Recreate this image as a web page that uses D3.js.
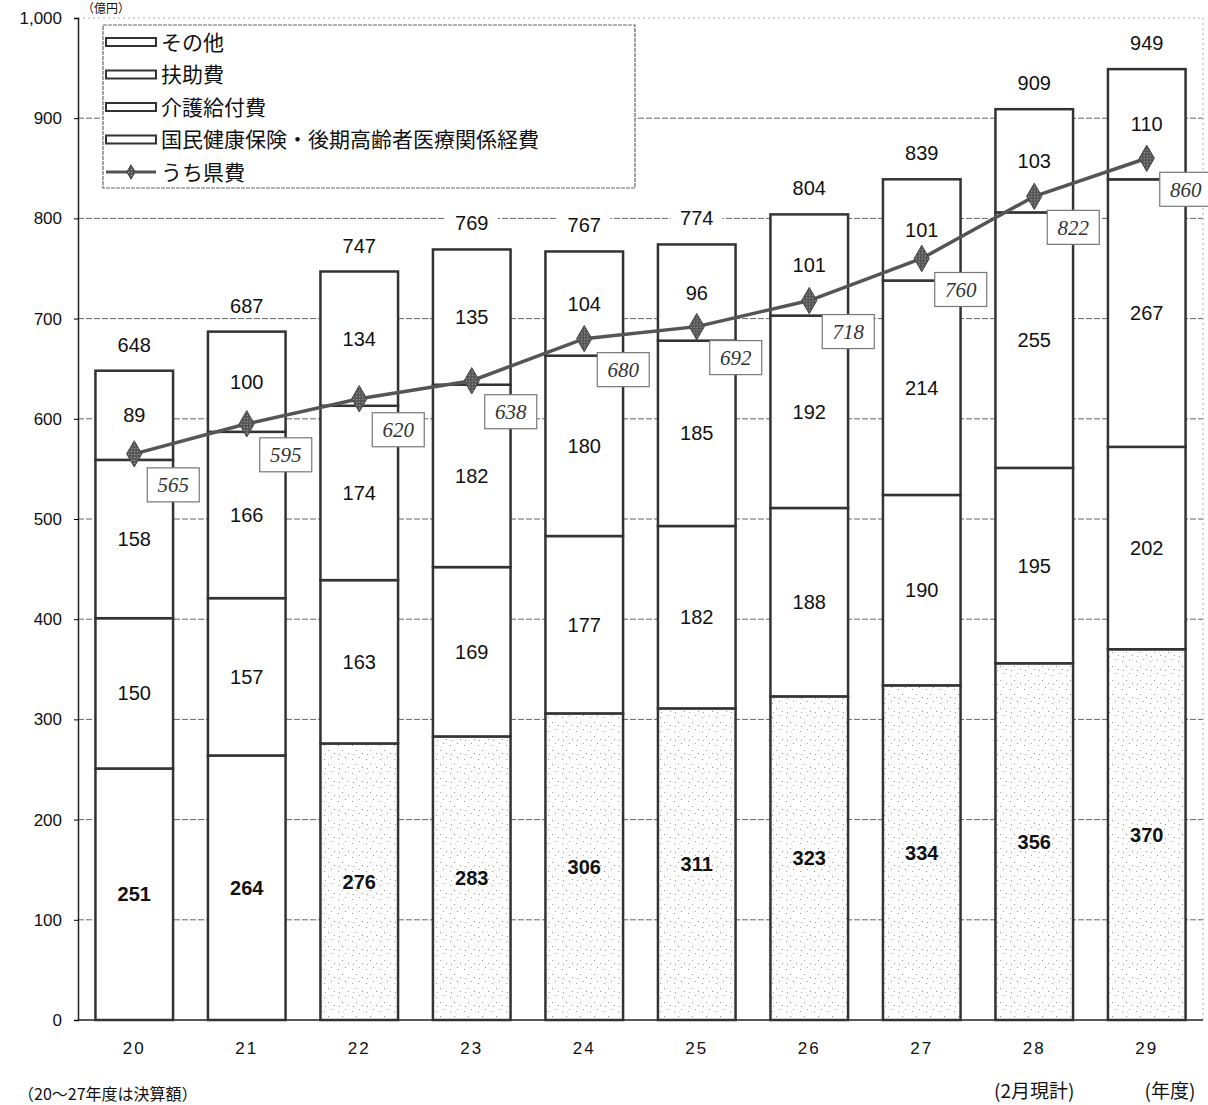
<!DOCTYPE html>
<html>
<head>
<meta charset="utf-8">
<script src="https://cdn.jsdelivr.net/npm/d3@7"></script>
<style>
  body { margin: 0; background: #fff; }
  svg { display: block; }
</style>
</head>
<body>
<div id="chart"></div>
<script>
// data
const years = ["20", "21", "22", "23", "24", "25", "26", "27", "28", "29"];
const seriesNames = ["国民健康保険・後期高齢者医療関係経費", "介護給付費", "扶助費", "その他"];
const kokuho = [251, 264, 276, 283, 306, 311, 323, 334, 356, 370];
const kaigo = [150, 157, 163, 169, 177, 182, 188, 190, 195, 202];
const fujo = [158, 166, 174, 182, 180, 185, 192, 214, 255, 267];
const sonota = [89, 100, 134, 135, 104, 96, 101, 101, 103, 110];
const totals = [648, 687, 747, 769, 767, 774, 804, 839, 909, 949];
const kenpi = [565, 595, 620, 638, 680, 692, 718, 760, 822, 860];
const yTicks = [0, 100, 200, 300, 400, 500, 600, 700, 800, 900, 1000];

// draw
{
    let width = 1208,
        height = 1105,
        margin = { top: 18, right: 5, bottom: 85, left: 78 };

    let svg = d3.select("#chart").append("svg")
        .attr("width", width)
        .attr("height", height)
        .style("font-family", "'Liberation Sans', Arial, sans-serif");

    // stipple pattern for the lower segment
    let defs = svg.append("defs");
    let pat = defs.append("pattern")
        .attr("id", "stipple")
        .attr("patternUnits", "userSpaceOnUse")
        .attr("width", 14)
        .attr("height", 14);
    pat.append("rect").attr("width", 14).attr("height", 14).attr("fill", "#fff");
    [[2, 3], [9, 1], [6, 8], [12, 11], [3, 12]].forEach(function(p) {
        pat.append("rect").attr("x", p[0]).attr("y", p[1])
            .attr("width", 1).attr("height", 1).attr("fill", "#999");
    });
    let hatch = defs.append("pattern")
        .attr("id", "hatch")
        .attr("patternUnits", "userSpaceOnUse")
        .attr("width", 3)
        .attr("height", 3);
    hatch.append("rect").attr("width", 3).attr("height", 3).attr("fill", "#555");
    hatch.append("rect").attr("width", 1).attr("height", 1).attr("fill", "#bbb");

    let x = d3.scaleBand()
        .domain(years)
        .range([margin.left, width - margin.right])
        .paddingInner(0.31)
        .paddingOuter(0.155);
    let y = d3.scaleLinear()
        .domain([0, 1000])
        .range([height - margin.bottom, margin.top]);

    // grid
    svg.append("g")
        .selectAll("line")
        .data(yTicks.filter(function(d) { return d > 0; }))
        .enter()
        .append("line")
        .attr("x1", margin.left)
        .attr("x2", width - margin.right)
        .attr("y1", function(d) { return y(d); })
        .attr("y2", function(d) { return y(d); })
        .attr("stroke", function(d) { return d == 1000 ? "#aaa" : "#666"; })
        .attr("stroke-width", 1)
        .attr("stroke-dasharray", function(d) { return d == 1000 ? "2,3" : "6,2"; });
    svg.append("line")
        .attr("x1", width - margin.right).attr("x2", width - margin.right)
        .attr("y1", y(1000)).attr("y2", y(0))
        .attr("stroke", "#aaa")
        .attr("stroke-dasharray", "2,3");

    // y axis
    let yAxis = d3.axisLeft(y)
        .tickValues(yTicks)
        .tickSize(4)
        .tickPadding(12)
        .tickFormat(d3.format(","));
    let ya = svg.append("g")
        .attr("transform", "translate(" + margin.left + ",0)")
        .call(yAxis);
    ya.select(".domain").attr("stroke", "#222").attr("stroke-width", 1.5);
    ya.selectAll("text").attr("font-size", 17).attr("fill", "#111")
        .attr("font-family", "'Liberation Sans', Arial, sans-serif");

    // x axis
    svg.append("line")
        .attr("x1", margin.left).attr("x2", width - margin.right)
        .attr("y1", y(0)).attr("y2", y(0))
        .attr("stroke", "#222").attr("stroke-width", 1.5);
    svg.append("g")
        .selectAll("text")
        .data(years)
        .enter()
        .append("text")
        .attr("x", function(d) { return x(d) + x.bandwidth() / 2; })
        .attr("y", y(0) + 34)
        .attr("text-anchor", "middle")
        .attr("font-size", 17)
        .attr("letter-spacing", 2)
        .attr("fill", "#111")
        .text(function(d) { return d; });

    // stacks
    let rows = years.map(function(yr, i) {
        return { year: yr, s0: kokuho[i], s1: kaigo[i], s2: fujo[i], s3: sonota[i], i: i };
    });
    let stack = d3.stack().keys(["s0", "s1", "s2", "s3"]);
    let layers = stack(rows);

    layers.forEach(function(layer, li) {
        let g = svg.append("g");
        g.selectAll("rect")
            .data(layer)
            .enter()
            .append("rect")
            .attr("x", function(d) { return x(d.data.year); })
            .attr("y", function(d) { return y(d[1]); })
            .attr("width", x.bandwidth())
            .attr("height", function(d) { return y(d[0]) - y(d[1]); })
            .attr("fill", function(d) { return (li == 0 && d.data.i >= 2) ? "url(#stipple)" : "#fff"; })
            .attr("stroke", "#333")
            .attr("stroke-width", 2.5);
        g.selectAll("text")
            .data(layer)
            .enter()
            .append("text")
            .attr("x", function(d) { return x(d.data.year) + x.bandwidth() / 2; })
            .attr("y", function(d) { return (y(d[0]) + y(d[1])) / 2; })
            .attr("dy", "0.35em")
            .attr("text-anchor", "middle")
            .attr("font-size", 20)
            .attr("font-weight", li == 0 ? "bold" : "normal")
            .attr("fill", "#111")
            .text(function(d) { return d[1] - d[0]; });
    });

    // totals
    let tg = svg.append("g");
    tg.selectAll("rect")
        .data(totals)
        .enter()
        .append("rect")
        .attr("x", function(d, i) { return x(years[i]) + x.bandwidth() / 2 - 26; })
        .attr("y", function(d) { return y(d) - 38; })
        .attr("width", 52)
        .attr("height", 24)
        .attr("fill", "#fff");
    tg.selectAll("text")
        .data(totals)
        .enter()
        .append("text")
        .attr("x", function(d, i) { return x(years[i]) + x.bandwidth() / 2; })
        .attr("y", function(d) { return y(d) - 26; })
        .attr("dy", "0.35em")
        .attr("text-anchor", "middle")
        .attr("font-size", 20)
        .attr("fill", "#111")
        .text(function(d) { return d; });

    // うち県費 line
    let line = d3.line()
        .x(function(d, i) { return x(years[i]) + x.bandwidth() / 2; })
        .y(function(d) { return y(d); });
    svg.append("path")
        .datum(kenpi)
        .attr("d", line)
        .attr("fill", "none")
        .attr("stroke", "#555")
        .attr("stroke-width", 3.5);
    svg.append("g")
        .selectAll("path")
        .data(kenpi)
        .enter()
        .append("path")
        .attr("d", d3.symbol().type(d3.symbolDiamond).size(200))
        .attr("transform", function(d, i) {
            return "translate(" + (x(years[i]) + x.bandwidth() / 2) + "," + y(d) + ")";
        })
        .attr("fill", "url(#hatch)")
        .attr("stroke", "#444")
        .attr("stroke-width", 1);
    let lg = svg.append("g");
    lg.selectAll("rect")
        .data(kenpi)
        .enter()
        .append("rect")
        .attr("x", function(d, i) { return x(years[i]) + x.bandwidth() / 2 + 13; })
        .attr("y", function(d) { return y(d) + 14; })
        .attr("width", 52)
        .attr("height", 34)
        .attr("fill", "#fff")
        .attr("stroke", "#777")
        .attr("stroke-width", 1.2);
    lg.selectAll("text")
        .data(kenpi)
        .enter()
        .append("text")
        .attr("x", function(d, i) { return x(years[i]) + x.bandwidth() / 2 + 39; })
        .attr("y", function(d) { return y(d) + 31; })
        .attr("dy", "0.35em")
        .attr("text-anchor", "middle")
        .attr("font-size", 21)
        .attr("font-style", "italic")
        .attr("font-family", "'Liberation Serif', 'DejaVu Serif', serif")
        .attr("fill", "#333")
        .text(function(d) { return d; });

    // legend
    {
        let legend_x = 103,
            legend_y = 25,
            row_h = 32.5;
        svg.append("rect")
            .attr("x", legend_x)
            .attr("y", legend_y)
            .attr("width", 532)
            .attr("height", 163)
            .attr("fill", "#fff")
            .attr("stroke", "#666")
            .attr("stroke-width", 1.2)
            .attr("stroke-dasharray", "4,1");
        let items = seriesNames.slice().reverse().concat(["うち県費"]);
        let lgi = svg.selectAll(".legendItem")
            .data(items)
            .enter()
            .append("g")
            .attr("class", "legendItem")
            .attr("transform", function(d, i) {
                return "translate(" + (legend_x + 3) + "," + (legend_y + 17 + i * row_h) + ")";
            });
        lgi.filter(function(d, i) { return i < 4; })
            .append("rect")
            .attr("x", 0).attr("y", -4)
            .attr("width", 50).attr("height", 8)
            .attr("fill", "#fff")
            .attr("stroke", "#333")
            .attr("stroke-width", 2);
        let last = lgi.filter(function(d, i) { return i == 4; });
        last.append("line")
            .attr("x1", 0).attr("x2", 50)
            .attr("y1", 0).attr("y2", 0)
            .attr("stroke", "#555")
            .attr("stroke-width", 3);
        last.append("path")
            .attr("d", d3.symbol().type(d3.symbolDiamond).size(60))
            .attr("transform", "translate(25,0)")
            .attr("fill", "url(#hatch)")
            .attr("stroke", "#444");
        lgi.append("text")
            .attr("x", 55)
            .attr("y", 0)
            .attr("dy", "0.36em")
            .attr("font-size", 21)
            .attr("font-family", "'Noto Sans CJK JP', sans-serif")
            .attr("fill", "#111")
            .text(function(d) { return d; });
    }

    // notes
    svg.append("text")
        .attr("x", 82).attr("y", 13)
        .attr("font-size", 12)
        .attr("font-family", "'Noto Sans CJK JP', sans-serif")
        .attr("fill", "#111")
        .text("（億円）");
    svg.append("text")
        .attr("x", 18).attr("y", 1100)
        .attr("font-size", 16)
        .attr("font-family", "'Noto Sans CJK JP', serif")
        .attr("fill", "#111")
        .text("（20～27年度は決算額）");
    svg.append("text")
        .attr("x", x("28") + x.bandwidth() / 2).attr("y", 1098)
        .attr("text-anchor", "middle")
        .attr("font-size", 19)
        .attr("font-family", "'Noto Sans CJK JP', serif")
        .attr("fill", "#111")
        .text("(2月現計)");
    svg.append("text")
        .attr("x", 1170).attr("y", 1098)
        .attr("text-anchor", "middle")
        .attr("font-size", 19)
        .attr("font-family", "'Noto Sans CJK JP', serif")
        .attr("fill", "#111")
        .text("(年度)");
}
</script>
</body>
</html>
